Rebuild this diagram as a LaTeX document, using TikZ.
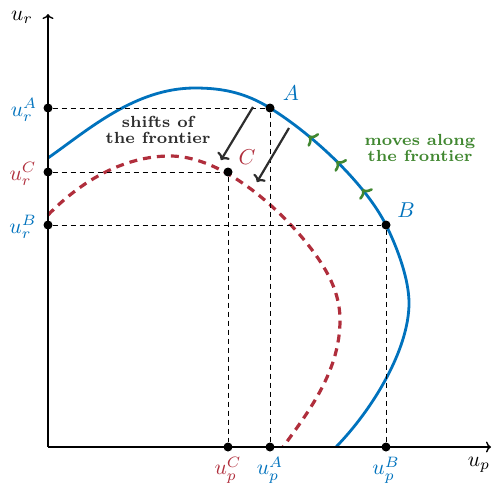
\documentclass[tikz,border=0pt]{standalone}
\usepackage{graphicx}
\usetikzlibrary{arrows.meta,decorations.markings}
\definecolor{fblue}{RGB}{0,114,189}
\definecolor{fred}{RGB}{176,46,60}
\definecolor{fgreen}{RGB}{64,135,48}
\definecolor{fgray}{RGB}{45,45,45}
\newcommand{\Lbl}[1]{\scalebox{2.15}{#1}}
\newcommand{\Btxt}[1]{\scalebox{2.3}{\fontsize{7}{7}\selectfont\bfseries\begin{tabular}{@{}c@{}}#1\end{tabular}}}
\begin{document}
\begin{tikzpicture}[x=1pt,y=-1pt,
  axisline/.style={line width=1.4pt,-{To[length=5pt,width=11pt]}},
  guide/.style={line width=0.9pt,dash pattern=on 5pt off 4pt},
  dot/.style={circle,fill=black,inner sep=0pt,minimum size=9pt},
  mlabel/.style={inner sep=0pt},
  shiftarrow/.style={line width=2.2pt,fgray,-{To[length=6pt,width=14pt]}},
  gmark/.style={fgreen,line width=2.6pt,-{To[length=7pt,width=17pt]}},
  bluecurve/.style={fblue,line width=2.8pt},
  redcurve/.style={fred,line width=3.2pt,dash pattern=on 8pt off 6pt}
]
\useasboundingbox (0,0) rectangle (492,488);

% curves
\draw[redcurve] (48,215) .. controls (82,180) and (125,156) .. (170,156)
  .. controls (215,156) and (265,195) .. (300,235)
  .. controls (330,270) and (340,295) .. (340,320)
  .. controls (340,370) and (310,410) .. (283,447);
\draw[bluecurve,postaction={decorate,decoration={markings,
   mark=at position 0.445 with {\draw[gmark] (0.1pt,0) -- (0,0);},
   mark=at position 0.502 with {\draw[gmark] (0.1pt,0) -- (0,0);},
   mark=at position 0.56 with {\draw[gmark] (0.1pt,0) -- (0,0);}}}]
  (48,158) .. controls (88,130) and (135,88) .. (195,88)
  .. controls (222,88) and (245,92.5) .. (270,108)
  .. controls (315,136) and (366,185) .. (386,225)
  .. controls (398,249) and (409,280) .. (409,303)
  .. controls (409,350) and (372,410) .. (336,447);

% axes
\coordinate (O) at (48,447);
\coordinate (Ytop) at (48,14);
\coordinate (Xend) at (491,447);
\draw[axisline] (O) -- (Ytop);
\draw[axisline] (O) -- (Xend);
\node[mlabel] (ur) at (22,17) {\Lbl{$u_r$}};
\node[mlabel] (up) at (479,465) {\Lbl{$u_p$}};

% points
\node[dot] (A) at (270,108) {};
\node[dot] (C) at (228,172) {};
\node[dot] (B) at (386,225) {};
\node[dot] (Ay) at (48,108) {};
\node[dot] (Cy) at (48,172) {};
\node[dot] (By) at (48,225) {};
\node[dot] (Ax) at (270,447) {};
\node[dot] (Cx) at (228,447) {};
\node[dot] (Bx) at (386,447) {};

\draw[guide] (Ay) -- (A) -- (Ax);
\draw[guide] (Cy) -- (C) -- (Cx);
\draw[guide] (By) -- (B) -- (Bx);

% labels
\node[mlabel,text=fblue] (lA) at (291,93) {\Lbl{$A$}};
\node[mlabel,text=fred] (lC) at (247,157) {\Lbl{$C$}};
\node[mlabel,text=fblue] (lB) at (406,210) {\Lbl{$B$}};
\node[mlabel,text=fblue] (lAy) at (24,110) {\Lbl{$u_r^A$}};
\node[mlabel,text=fred] (lCy) at (23,174) {\Lbl{$u_r^C$}};
\node[mlabel,text=fblue] (lBy) at (23,227) {\Lbl{$u_r^B$}};
\node[mlabel,text=fred] (lCx) at (228,470) {\Lbl{$u_p^C$}};
\node[mlabel,text=fblue] (lAx) at (270,470) {\Lbl{$u_p^A$}};
\node[mlabel,text=fblue] (lBx) at (386,470) {\Lbl{$u_p^B$}};

% shift arrows
\coordinate (s1a) at (253,107);
\coordinate (s1b) at (221,160);
\coordinate (s2a) at (289,128);
\coordinate (s2b) at (257,182);
\draw[shiftarrow] (s1a) -- (s1b);
\draw[shiftarrow] (s2a) -- (s2b);

\node[inner sep=0pt,text=fgray] (shift) at (158,132) {\Btxt{shifts of\\the frontier}};
\node[inner sep=0pt,text=fgreen] (move) at (420,150) {\Btxt{moves along\\the frontier}};
\end{tikzpicture}
\end{document}
